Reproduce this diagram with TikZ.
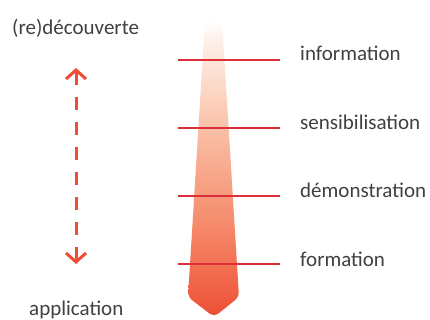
\documentclass[tikz,border=0pt]{standalone}
\usepackage{fontspec}
\setmainfont{Carlito}
\usetikzlibrary{arrows.meta}
\definecolor{txt}{HTML}{404040}
\definecolor{redline}{HTML}{DC2F3A}
\definecolor{arrowred}{HTML}{EF4D36}
\definecolor{g0}{HTML}{FFFFFF}
\definecolor{g1}{HTML}{FEF0EA}
\definecolor{g2}{HTML}{FCD6C4}
\definecolor{g3}{HTML}{FAC0A8}
\definecolor{g4}{HTML}{F58A6A}
\definecolor{g5}{HTML}{EE4F35}
\pgfdeclareverticalshading{tapergrad}{100bp}{
  color(0bp)=(g5); color(25bp)=(g5); color(40.5bp)=(g4); color(56.8bp)=(g3);
  color(63.2bp)=(g2); color(71.6bp)=(g1); color(75bp)=(g0); color(100bp)=(g0)}
\tikzset{
  lbl/.style={font=\fontsize{21}{25}\selectfont, text=txt, inner sep=0pt},
  stage/.style={redline, line width=1.6pt},
  cycle arrow/.style={arrowred, line width=3pt, dash pattern=on 13pt off 12pt,
    {Straight Barb[length=9pt,width=20pt,line width=3pt]}-{Straight Barb[length=9pt,width=20pt,line width=3pt]}}
}
\begin{document}
\begin{tikzpicture}[x=1pt,y=-1pt]
\useasboundingbox (0,0) rectangle (430,320);
% tapered shape
\shade[shading=tapergrad, rounded corners=5pt]
  (205,20) [sharp corners] -- (222,20) [rounded corners=5pt] -- (239,297) -- (214,317) -- (188,297) [sharp corners] -- (205,20) -- cycle;
% stage lines
\foreach \y/\n in {60/a,128/b,196/c,264/d}{
  \coordinate (l\n) at (178,\y);
  \coordinate (r\n) at (280,\y);
  \draw[stage] (l\n) -- (r\n);
}
% labels
\node[lbl, anchor=west] (info) at (300,53) {information};
\node[lbl, anchor=west] (sens) at (300,122) {sensibilisation};
\node[lbl, anchor=west] (demo) at (300,190) {démonstration};
\node[lbl, anchor=west] (form) at (300,259) {formation};
\node[lbl, anchor=west] (redec) at (12,28) {(re)découverte};
\node[lbl, anchor=west] (appl) at (29,310) {application};
% dashed arrow
\coordinate (atop) at (76,68);
\coordinate (abot) at (76,264);
\draw[cycle arrow] (atop) -- (abot);
\end{tikzpicture}
\end{document}
